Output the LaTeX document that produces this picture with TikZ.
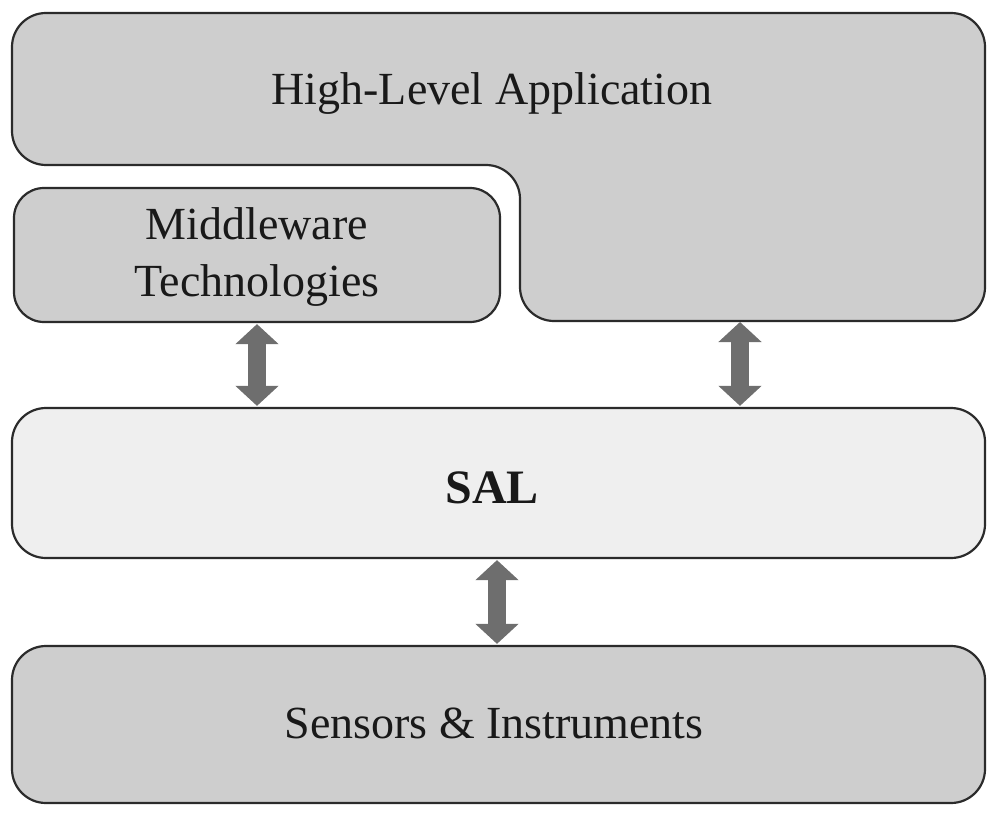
\documentclass[tikz,border=0pt]{standalone}
\usepackage{fontspec}
\setmainfont{Liberation Serif}
\usetikzlibrary{arrows.meta}
\definecolor{boxgray}{HTML}{CECECE}
\definecolor{salgray}{HTML}{EFEFEF}
\definecolor{edgegray}{HTML}{2B2B2B}
\definecolor{arrgray}{HTML}{6E6E6E}
\tikzset{
  layer/.style={draw=edgegray, line width=1.1pt, fill=boxgray, rounded corners=17pt, inner sep=0pt},
  label/.style={font=\fontsize{23}{28.5}\selectfont, text=black!90, align=center},
  dblarrow/.style={draw=arrgray, line width=9pt,
    {Triangle[width=21pt,length=10pt]}-{Triangle[width=21pt,length=10pt]}, shorten <=0.5pt, shorten >=0.5pt}
}
\begin{document}
\begin{tikzpicture}[x=0.5pt,y=-0.5pt]
\useasboundingbox (0,0) rectangle (1000,818);
% High-Level Application (L-shaped)
\draw[layer] (12,13) -- (985,13) -- (985,321) -- (520,321) -- (520,165) -- (12,165) -- cycle;
\node[label] (hla) at (492,94) {High-Level Application};
\coordinate (hlab) at (740,321);
% Middleware
\node[layer, rounded corners=15pt, minimum width=243pt, minimum height=67pt] (mw) at (257,255) {};
\node[label] (mwt) at (257,257) {Middleware\\Technologies};
% SAL
\node[layer, fill=salgray, minimum width=486.5pt, minimum height=75pt] (sal) at (498.5,483) {};
\node[label, font=\fontsize{24}{28}\selectfont\bfseries] (salt) at (492,488) {SAL};
% Sensors
\node[layer, minimum width=486.5pt, minimum height=78.5pt] (sen) at (498.5,724.5) {};
\node[label] (sent) at (494,723) {Sensors \& Instruments};
% arrows
\draw[dblarrow] (mw.south) -- (mw.south |- sal.north);
\draw[dblarrow] (hlab) -- (hlab |- sal.north);
\draw[dblarrow] (sal.south -| 497,0) -- (sen.north -| 497,0);
\end{tikzpicture}
\end{document}
